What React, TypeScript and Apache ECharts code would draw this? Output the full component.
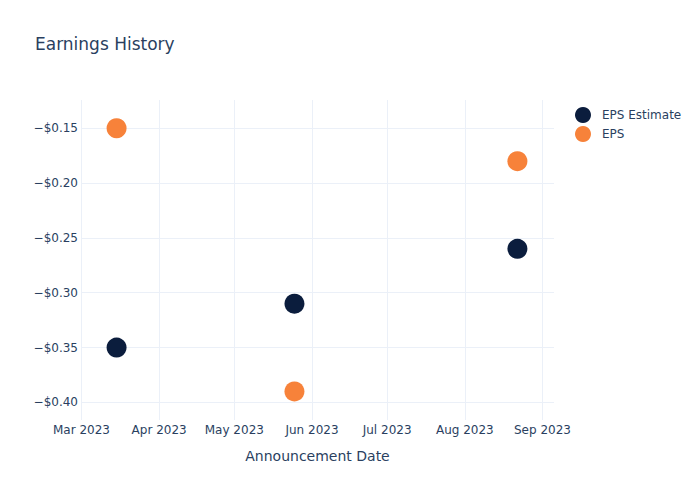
import React, { useEffect, useRef } from "react";
import * as echarts from "echarts";

const dates = ["2023-03-15", "2023-05-25", "2023-08-22"];
const epsEstimate = [-0.35, -0.31, -0.26];
const eps = [-0.15, -0.39, -0.18];
const monthTicks = ["2023-03-01", "2023-04-01", "2023-05-01", "2023-06-01", "2023-07-01", "2023-08-01", "2023-09-01"];
const yTicks = [-0.4, -0.35, -0.3, -0.25, -0.2, -0.15];
const monthNames = ["Jan", "Feb", "Mar", "Apr", "May", "Jun", "Jul", "Aug", "Sep", "Oct", "Nov", "Dec"];

const FONT = "'DejaVu Sans', 'Open Sans', Verdana, sans-serif";
const TEXT = "#2a3f5f";

export default function App() {
  const ref = useRef<HTMLDivElement>(null);
  useEffect(() => {
    if (!ref.current) return;
    const chart = echarts.init(ref.current, null, { renderer: "svg" });
    const ts = dates.map((d) => Date.parse(d));
    const tickTs = monthTicks.map((d) => Date.parse(d));
    const day = 86400000;
    chart.setOption({
      animation: false,
      textStyle: { fontFamily: FONT },
      title: {
        text: "Earnings History",
        left: 35,
        top: 35,
        padding: 0,
        textStyle: { fontFamily: FONT, fontSize: 17, fontWeight: "normal", color: TEXT },
      },
      legend: {
        orient: "vertical",
        left: 575,
        top: 107,
        icon: "circle",
        itemWidth: 28,
        itemHeight: 16,
        itemGap: 3,
        padding: 0,
        textStyle: { fontFamily: FONT, fontSize: 12, color: TEXT },
        data: ["EPS Estimate", "EPS"],
      },
      grid: { left: 81, right: 146, top: 100, bottom: 80, containLabel: false },
      xAxis: {
        type: "value",
        min: Date.parse("2023-03-01") - 0.2 * day,
        max: Date.parse("2023-09-01") + 4.6 * day,
        name: "Announcement Date",
        nameLocation: "middle",
        nameGap: 29,
        nameTextStyle: { fontFamily: FONT, fontSize: 14, color: TEXT },
        axisLine: { show: false },
        axisTick: { show: false, customValues: tickTs },
        axisLabel: {
          customValues: tickTs,
          margin: 4,
          fontFamily: FONT,
          fontSize: 12,
          color: TEXT,
          formatter: (v: number) => {
            const d = new Date(v);
            return monthNames[d.getUTCMonth()] + " " + d.getUTCFullYear();
          },
        },
        splitLine: { show: true, lineStyle: { color: "#ebf0f8", width: 1 } },
      },
      yAxis: {
        type: "value",
        min: -0.4161,
        max: -0.1242,
        axisLine: { show: false },
        axisTick: { show: false, customValues: yTicks },
        axisLabel: {
          customValues: yTicks,
          margin: 3,
          fontFamily: FONT,
          fontSize: 12,
          color: TEXT,
          formatter: (v: number) => (v < 0 ? "\u2212" : "") + "$" + Math.abs(v).toFixed(2),
        },
        splitLine: { show: true, lineStyle: { color: "#ebf0f8", width: 1 } },
      },
      series: [
        {
          name: "EPS Estimate",
          type: "scatter",
          symbolSize: 20,
          itemStyle: { color: "#0b1d3d", opacity: 1 },
          data: ts.map((t, i) => [t, epsEstimate[i]]),
        },
        {
          name: "EPS",
          type: "scatter",
          symbolSize: 20,
          itemStyle: { color: "#f7823a", opacity: 1 },
          data: ts.map((t, i) => [t, eps[i]]),
        },
      ],
    });
    return () => chart.dispose();
  }, []);
  return <div ref={ref} style={{ width: 700, height: 500, position: "absolute", left: 0, top: 0 }} />;
}
